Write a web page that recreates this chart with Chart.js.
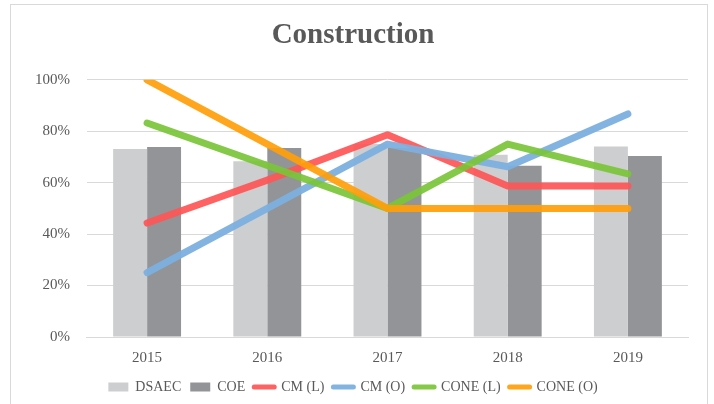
<!DOCTYPE html>
<html>
<head>
<meta charset="utf-8">
<script src="https://cdn.jsdelivr.net/npm/chart.js@4"></script>
<style>
  html, body { margin: 0; padding: 0; background: #fff; }
  #wrap { position: relative; width: 714px; height: 404px; overflow: hidden; }
  #frame { position: absolute; left: 10px; top: 4px; width: 698px; height: 420px;
           border: 1px solid #d9d9d9; box-sizing: border-box; pointer-events: none; }
  canvas { position: absolute; left: 0; top: 0; }
</style>
</head>
<body>
<div id="wrap">
  <canvas id="chart" width="714" height="404"></canvas>
  <div id="frame"></div>
</div>
<script>
// Chart data
const years = ['2015', '2016', '2017', '2018', '2019'];
const dsaec = [73.1, 68.3, 75.0, 70.9, 74.1];
const coe = [73.9, 73.5, 73.5, 66.6, 70.4];
const cmL = [44.3, 61.0, 78.6, 58.7, 58.7];
const cmO = [25.0, 50.0, 75.0, 66.2, 86.7];
const coneL = [83.2, 66.7, 50.0, 75.0, 63.4];
const coneO = [100, 75.0, 50.0, 50.0, 50.0];
const yTicks = [0, 20, 40, 60, 80, 100];

const textColor = '#595959';
const serif = '"Liberation Serif", "DejaVu Serif", serif';

function lineSet(label, data, color, order) {
    return {
        type: 'line',
        label: label,
        data: data,
        borderColor: color,
        backgroundColor: color,
        borderWidth: 7,
        borderCapStyle: 'round',
        borderJoinStyle: 'round',
        pointRadius: 0,
        tension: 0,
        order: order
    };
}

const chart = new Chart(document.getElementById('chart'), {
    type: 'bar',
    data: {
        labels: years,
        datasets: [
            { label: 'DSAEC', data: dsaec, backgroundColor: '#cdced0', order: 10,
              barPercentage: 1, categoryPercentage: 0.565 },
            { label: 'COE', data: coe, backgroundColor: '#939497', order: 10,
              barPercentage: 1, categoryPercentage: 0.565 },
            lineSet('CM (L)', cmL, 'rgba(255,85,85,0.92)', 4),
            lineSet('CM (O)', cmO, 'rgba(124,176,223,0.95)', 3),
            lineSet('CONE (L)', coneL, 'rgba(122,196,55,0.92)', 2),
            lineSet('CONE (O)', coneO, 'rgba(255,158,10,0.92)', 1)
        ]
    },
    options: {
        responsive: false,
        animation: false,
        layout: { padding: { left: 18, right: 26, top: 12, bottom: 0 } },
        plugins: {
            title: {
                display: true,
                text: 'Construction',
                color: textColor,
                font: { family: serif, size: 29, weight: 'bold' },
                padding: { top: 6, bottom: 27 }
            },
            legend: {
                position: 'bottom',
                labels: {
                    color: textColor,
                    font: { family: serif, size: 14 },
                    usePointStyle: true,
                    pointStyleWidth: 20,
                    boxHeight: 9,
                    padding: 9,
                    generateLabels: function (c) {
                        return c.data.datasets.map(function (ds, i) {
                            const isLine = ds.type === 'line';
                            return {
                                text: ds.label,
                                datasetIndex: i,
                                fillStyle: isLine ? ds.borderColor : ds.backgroundColor,
                                strokeStyle: isLine ? ds.borderColor : ds.backgroundColor,
                                lineWidth: isLine ? 5 : 0,
                                lineCap: 'round',
                                pointStyle: isLine ? 'line' : 'rect',
                                fontColor: textColor,
                                hidden: false
                            };
                        });
                    }
                }
            },
            tooltip: { enabled: false }
        },
        scales: {
            x: {
                grid: { display: false },
                border: { color: '#d9d9d9' },
                ticks: { color: textColor, font: { family: serif, size: 15 }, padding: 4 }
            },
            y: {
                min: 0,
                max: 100,
                afterBuildTicks: function (axis) {
                    axis.ticks = yTicks.map(function (v) { return { value: v }; });
                },
                grid: { color: '#d9d9d9', drawTicks: false },
                border: { display: false },
                ticks: {
                    color: textColor,
                    font: { family: serif, size: 15 },
                    padding: 17,
                    callback: function (v) { return v + '%'; }
                }
            }
        }
    }
});
</script>
</body>
</html>
